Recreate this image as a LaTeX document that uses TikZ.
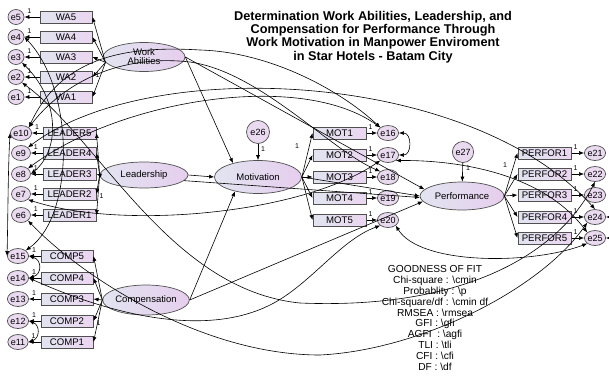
\documentclass[tikz,border=0pt]{standalone}
\usepackage{fontspec}
\setmainfont{Liberation Sans}
\usetikzlibrary{shapes.geometric,arrows.meta}
\definecolor{bxL}{RGB}{226,228,240}
\definecolor{bxR}{RGB}{234,214,240}
\definecolor{elL}{RGB}{226,228,240}
\definecolor{elR}{RGB}{230,206,238}
\definecolor{erC}{RGB}{234,218,240}
\definecolor{bd}{RGB}{80,80,80}
\begin{document}
\begin{tikzpicture}[x=1pt,y=-1pt,
 obs/.style={rectangle,draw=bd,line width=1pt,left color=bxL,right color=bxR,minimum width=52pt,minimum height=12pt,inner sep=0pt,font=\fontsize{9.6}{10}\selectfont},
 lat/.style={ellipse,draw=bd,line width=0.7pt,left color=elL,right color=elR,inner sep=0pt,font=\fontsize{9.5}{10}\selectfont,align=center},
 err/.style={ellipse,draw=bd,line width=0.7pt,fill=erC,minimum width=17pt,minimum height=15pt,inner sep=0pt,font=\fontsize{9}{9}\selectfont},
 arr/.style={-{Latex[length=5pt,width=4pt]},line width=0.6pt},
 cov/.style={{Latex[length=5pt,width=4pt]}-{Latex[length=5pt,width=4pt]},line width=0.6pt},
 one/.style={font=\fontsize{7}{7}\selectfont,inner sep=0pt}
]
\useasboundingbox (0,0) rectangle (609,378);
% observed
\node[obs] (wa5) at (66,17) {WA5};
\node[obs] (wa4) at (66,37) {WA4};
\node[obs] (wa3) at (66,57) {WA3};
\node[obs] (wa2) at (66,77) {WA2};
\node[obs] (wa1) at (66,97) {WA1};
\node[obs,minimum width=53pt] (ld5) at (69.5,133) {LEADER5};
\node[obs,minimum width=53pt] (ld4) at (69.5,153) {LEADER4};
\node[obs,minimum width=53pt] (ld3) at (69.5,174) {LEADER3};
\node[obs,minimum width=53pt] (ld2) at (69.5,194) {LEADER2};
\node[obs,minimum width=53pt] (ld1) at (69.5,215) {LEADER1};
\node[obs] (cp5) at (67,256) {COMP5};
\node[obs] (cp4) at (67,278) {COMP4};
\node[obs] (cp3) at (67,299) {COMP3};
\node[obs] (cp2) at (67,321) {COMP2};
\node[obs] (cp1) at (67,342) {COMP1};
\node[obs,minimum width=53pt] (m1) at (339.5,133) {MOT1};
\node[obs,minimum width=53pt] (m2) at (339.5,155) {MOT2};
\node[obs,minimum width=53pt] (m3) at (339.5,177) {MOT3};
\node[obs,minimum width=53pt] (m4) at (339.5,198) {MOT4};
\node[obs,minimum width=53pt] (m5) at (339.5,220) {MOT5};
\node[obs,minimum width=53pt] (p1) at (544.5,153) {PERFOR1};
\node[obs,minimum width=53pt] (p2) at (544.5,174) {PERFOR2};
\node[obs,minimum width=53pt] (p3) at (544.5,195) {PERFOR3};
\node[obs,minimum width=53pt] (p4) at (544.5,217) {PERFOR4};
\node[obs,minimum width=53pt] (p5) at (544.5,238) {PERFOR5};
% latent
\node[lat,minimum width=82pt,minimum height=29pt] (wa) at (144,57) {Work\\[-1pt]Abilities};
\node[lat,minimum width=88pt,minimum height=26pt] (ld) at (144,175) {Leadership};
\node[lat,minimum width=85pt,minimum height=30pt] (cp) at (146,300) {Compensation};
\node[lat,minimum width=87pt,minimum height=33pt] (mot) at (258,177) {Motivation};
\node[lat,minimum width=84pt,minimum height=28pt] (perf) at (462,196) {Performance};
% errors
\node[err,minimum width=16pt] (e5) at (16,17) {e5};
\node[err,minimum width=16pt] (e4) at (16,37) {e4};
\node[err,minimum width=16pt] (e3) at (16,57) {e3};
\node[err,minimum width=16pt] (e2) at (16,77) {e2};
\node[err,minimum width=16pt] (e1) at (16,97) {e1};
\node[err,minimum width=19pt] (e10) at (21,133) {e10};
\node[err,minimum width=19pt] (e9) at (21,153) {e9};
\node[err,minimum width=19pt] (e8) at (21,174) {e8};
\node[err,minimum width=19pt] (e7) at (21,194) {e7};
\node[err,minimum width=19pt] (e6) at (21,215) {e6};
\node[err,minimum width=19pt] (e15) at (18,256) {e15};
\node[err,minimum width=19pt] (e14) at (18,278) {e14};
\node[err,minimum width=19pt] (e13) at (18,299) {e13};
\node[err,minimum width=19pt] (e12) at (18,321) {e12};
\node[err,minimum width=19pt] (e11) at (18,342) {e11};
\node[err] (e16) at (388,133) {e16};
\node[err] (e17) at (388,155) {e17};
\node[err] (e18) at (388,177) {e18};
\node[err] (e19) at (388,198) {e19};
\node[err] (e20) at (388,220) {e20};
\node[err,minimum width=19pt] (e21) at (595,153) {e21};
\node[err,minimum width=19pt] (e22) at (595,174) {e22};
\node[err,minimum width=19pt] (e23) at (595,195) {e23};
\node[err,minimum width=19pt] (e24) at (595,217) {e24};
\node[err,minimum width=19pt] (e25) at (595,238) {e25};
\node[err,minimum width=23pt,minimum height=23pt] (e26) at (258,132) {e26};
\node[err,minimum width=21pt,minimum height=21pt] (e27) at (463,152) {e27};
% titles
\node[font=\bfseries\fontsize{12.7}{13.3}\selectfont,align=center] (title) at (373,37) {Determination Work Abilities, Leadership, and\\Compensation for Performance Through\\Work Motivation in Manpower Enviroment\\in Star Hotels - Batam City};
\node[font=\fontsize{10.2}{10.9}\selectfont,align=center] (gof) at (435,318) {GOODNESS OF FIT\\Chi-square : \textbackslash cmin\\Probablity : \textbackslash p\\Chi-square/df : \textbackslash cmin df\\RMSEA : \textbackslash rmsea\\GFI : \textbackslash gfi\\AGFI~ : \textbackslash agfi\\TLI : \textbackslash tli\\CFI : \textbackslash cfi\\DF : \textbackslash df};
% error arrows (heads at the error terms, as drawn)
\foreach \e/\b in {e5/wa5,e4/wa4,e3/wa3,e2/wa2,e1/wa1,e10/ld5,e9/ld4,e8/ld3,e7/ld2,e6/ld1,e15/cp5,e14/cp4,e13/cp3,e12/cp2,e11/cp1}{
  \draw[arr] (\b) -- (\e);
  \node[one] at ([shift={(5pt,6pt)}]\e.east) {1};
}
\foreach \e/\b in {e16/m1,e17/m2,e18/m3,e19/m4,e20/m5,e21/p1,e22/p2,e23/p3,e24/p4,e25/p5}{
  \draw[arr] (\b) -- (\e);
  \node[one] at ([shift={(4pt,6pt)}]\b.east) {1};
}
% loadings
\foreach \b in {wa5,wa4,wa3,wa2,wa1}{\draw[arr] (wa.188) -- (\b.east);}
\foreach \b in {ld5,ld4,ld3,ld2,ld1}{\draw[arr] (ld.west) -- (\b.east);}
\foreach \b in {cp5,cp4,cp3,cp2,cp1}{\draw[arr] (cp.west) -- (\b.east);}
\foreach \b in {m1,m2,m3,m4,m5}{\draw[arr] (mot.east) -- (\b.west);}
\foreach \b in {p1,p2,p3,p4,p5}{\draw[arr] (perf.east) -- (\b.west);}
\node[one] at ([shift={(5pt,2pt)}]wa2.east) {1};
\node[one] at ([shift={(5pt,-2pt)}]ld2.east) {1};
\node[one] at ([shift={(5pt,-2pt)}]cp2.east) {1};
\node[one] at (297,146) {1};
\node[one] at (505,165) {1};
% disturbances
\draw[arr] (e26) -- (mot);
\draw[arr] (e27) -- (perf);
\node[one] at (263,149) {1};
\node[one] at (468,168) {1};
% structural
\draw[arr] (wa.east) -- (mot.151);
\draw[arr] (wa.east) -- (perf.170);
\draw[arr] (ld.east) -- (mot.west);
\draw[arr] (ld.352) -- (perf.182);
\draw[arr] (cp.east) -- (mot.212);
\draw[arr] (cp.east) -- (perf.188);
\draw[arr] (mot.east) -- (perf.west);
% covariances
\draw[cov] (e4.east) .. controls (75,90) and (75,215) .. (e15.north east);
\draw[cov] (e3.south east) .. controls (60,100) and (60,150) .. (e8.east);
\draw[cov] (e10.west) .. controls (8,170) and (8,215) .. (e15.west);
\draw[cov] (e15.east) .. controls (42,260) and (42,274) .. (e14.east);
\draw[cov] (e12.east) .. controls (40,325) and (40,338) .. (e11.east);
\draw[cov] (e10.north east) .. controls (60,60) and (120,45) .. (200,50) .. controls (270,52) and (340,90) .. (e16.north west);
\draw[cov] (e10.north east) .. controls (70,75) and (130,55) .. (190,62) .. controls (260,72) and (330,150) .. (e18.north west);
\draw[cov] (e9.north east) .. controls (150,55) and (470,70) .. (e24.north);
\draw[cov] (e8.north east) .. controls (120,100) and (300,70) .. (e16.north west);
\draw[cov] (e17.south east) .. controls (450,160) and (540,170) .. (e25.north west);
\draw[cov] (e7.south east) .. controls (120,230) and (300,215) .. (e17.south west);
\draw[cov] (e14.east) .. controls (100,310) and (200,340) .. (270,305) .. controls (310,285) and (340,240) .. (e20.south west);
\draw[cov] (e2.south east) .. controls (100,140) and (170,290) .. (300,303) .. controls (470,310) and (560,250) .. (e22.south);
\draw[cov] (e6.south east) .. controls (80,275) and (200,355) .. (320,355) .. controls (420,350) and (540,290) .. (e24.south west);
\draw[cov] (e20.south east) .. controls (420,265) and (530,265) .. (e25.south west);
\draw[cov] (e16.east) .. controls (412,133) and (412,155) .. (e17.east);
\draw[cov] (e24.east) .. controls (614,217) and (614,238) .. (e25.east);
\end{tikzpicture}
\end{document}
